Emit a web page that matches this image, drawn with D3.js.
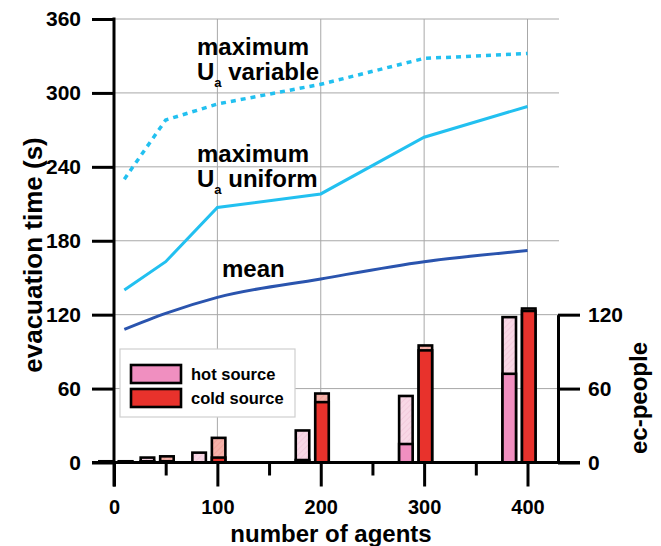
<!DOCTYPE html>
<html>
<head>
<meta charset="utf-8">
<script src="https://cdn.jsdelivr.net/npm/d3@7"></script>
<style>
  body { margin: 0; background: #fff; }
  svg { display: block; font-family: "Liberation Sans", Arial, sans-serif; font-weight: bold; }
</style>
</head>
<body>
<svg id="chart" width="661" height="546"></svg>
<script>
// evacuation time lines (s)
let agents = [10, 50, 100, 200, 300, 400];
let maxVariable = [230, 278, 291, 307, 328, 332];
let maxUniform = [140, 163, 207, 218, 264, 289];
let meanTime = [108, 121, 134, 149, 163, 172];

// ec-people bars: solid part + hatched part on top (total)
let barAgents = [10, 50, 100, 200, 300, 400];
let hotSolid = [0.5, 1, 0, 2, 15, 72];
let hotTotal = [1, 4, 8, 26, 54, 118];
let coldSolid = [0.5, 1, 4, 49, 91, 123];
let coldTotal = [1, 5, 20, 56, 95, 125];

let timeTicks = [0, 60, 120, 180, 240, 300, 360];
let agentTicks = [0, 100, 200, 300, 400];
let agentMinor = [50, 150, 250, 350];
let peopleTicks = [0, 60, 120];

let svg = d3.select("#chart");

let x = d3.scaleLinear().domain([0, 400]).range([114, 527.5]);
let y = d3.scaleLinear().domain([0, 360]).range([462.5, 19]);
let yPeople = d3.scaleLinear().domain([0, 120]).range([y(0), y(120)]);

let lightBlue = "#22c0f0";
let darkBlue = "#2a54ae";

// hatch patterns
let defs = svg.append("defs");
function hatch(id, bg, fg) {
    let p = defs.append("pattern")
        .attr("id", id)
        .attr("patternUnits", "userSpaceOnUse")
        .attr("width", 4).attr("height", 4)
        .attr("patternTransform", "rotate(45)");
    p.append("rect").attr("width", 4).attr("height", 4).attr("fill", bg);
    p.append("line").attr("x1", 0).attr("y1", 0).attr("x2", 0).attr("y2", 4)
        .attr("stroke", fg).attr("stroke-width", 1);
}
hatch("hotHatch", "#f8d8e6", "#efbcd2");
hatch("coldHatch", "#f5b2aa", "#ee948c");

// grid
let grid = svg.append("g").attr("stroke", "#a8a8a8").attr("stroke-width", 1);
grid.selectAll("line.h").data(timeTicks.slice(1)).enter().append("line")
    .attr("x1", x(0)).attr("x2", 559)
    .attr("y1", d => y(d)).attr("y2", d => y(d));
grid.selectAll("line.v").data(agentTicks.slice(1)).enter().append("line")
    .attr("x1", d => x(d)).attr("x2", d => x(d))
    .attr("y1", y(360)).attr("y2", y(0));

// bars
let bars = svg.append("g").attr("stroke", "#000").attr("stroke-width", 2.6);
function stack(vals, solid, off, w, solidFill, hatchFill) {
    bars.selectAll(null).data(barAgents).enter().append("rect")
        .attr("x", d => x(d) + off).attr("width", w)
        .attr("y", (d, i) => yPeople(vals[i]))
        .attr("height", (d, i) => yPeople(0) - yPeople(vals[i]))
        .attr("fill", hatchFill);
    bars.selectAll(null).data(barAgents).enter().append("rect")
        .attr("x", d => x(d) + off).attr("width", w)
        .attr("y", (d, i) => yPeople(solid[i]))
        .attr("height", (d, i) => yPeople(0) - yPeople(solid[i]))
        .attr("fill", solidFill);
}
stack(hotTotal, hotSolid, -25, 13.5, "#f08fc0", "url(#hotHatch)");
stack(coldTotal, coldSolid, -5.5, 13.5, "#e8322c", "url(#coldHatch)");

// lines
let line = d3.line().x((d, i) => x(agents[i])).y(d => y(d));
svg.append("path").datum(maxVariable).attr("d", line)
    .attr("fill", "none").attr("stroke", lightBlue).attr("stroke-width", 3.5)
    .attr("stroke-dasharray", "5,5");
svg.append("path").datum(maxUniform).attr("d", line)
    .attr("fill", "none").attr("stroke", lightBlue).attr("stroke-width", 3);
svg.append("path").datum(meanTime).attr("d", line.curve(d3.curveMonotoneX))
    .attr("fill", "none").attr("stroke", darkBlue).attr("stroke-width", 3);

// axes
function styleAxis(g, size) {
    g.selectAll(".tick line").attr("stroke", "#000").attr("stroke-width", 3);
    g.selectAll(".tick text").attr("fill", "#000")
        .style("font-size", size + "px").style("font-weight", "bold")
        .style("font-family", "'Liberation Sans', Arial, sans-serif");
}

let leftAxis = svg.append("g").attr("transform", "translate(" + x(0) + ",0)")
    .call(d3.axisLeft(y).tickValues(timeTicks).tickSize(22).tickPadding(11).tickSizeOuter(0));
leftAxis.select(".domain").remove();
styleAxis(leftAxis, 21);

let bottomAxis = svg.append("g").attr("transform", "translate(0," + y(0) + ")")
    .call(d3.axisBottom(x).tickValues(agentTicks).tickSize(24).tickPadding(13).tickSizeOuter(0));
bottomAxis.select(".domain").remove();
styleAxis(bottomAxis, 20);

let minorAxis = svg.append("g").attr("transform", "translate(0," + y(0) + ")")
    .call(d3.axisBottom(x).tickValues(agentMinor).tickSize(13).tickFormat(""));
minorAxis.select(".domain").remove();
styleAxis(minorAxis, 20);

let rightAxis = svg.append("g").attr("transform", "translate(558,0)")
    .call(d3.axisRight(yPeople).tickValues(peopleTicks).tickSize(22).tickPadding(8).tickSizeOuter(0));
rightAxis.select(".domain").attr("stroke", "#000").attr("stroke-width", 3);
styleAxis(rightAxis, 21);

// axis lines
svg.append("line").attr("x1", x(0)).attr("x2", x(0)).attr("y1", y(360) - 1.5).attr("y2", y(0) + 24)
    .attr("stroke", "#000").attr("stroke-width", 3);
svg.append("line").attr("x1", 92).attr("x2", 580).attr("y1", y(0)).attr("y2", y(0))
    .attr("stroke", "#000").attr("stroke-width", 3);

// axis titles
svg.append("text").attr("transform", "translate(42,255) rotate(-90)")
    .attr("text-anchor", "middle").style("font-size", "26px").text("evacuation time (s)");
svg.append("text").attr("x", 331).attr("y", 542)
    .attr("text-anchor", "middle").style("font-size", "24px").text("number of agents");
svg.append("text").attr("transform", "translate(647,398) rotate(-90)")
    .attr("text-anchor", "middle").style("font-size", "24px").text("ec-people");

// annotations
function label(xp, yp, lines) {
    svg.append("text").attr("x", xp).attr("y", yp).style("font-size", "24px").text(lines[0]);
    if (lines.length > 1) {
        let t = svg.append("text").attr("x", xp).attr("y", yp + 25).style("font-size", "24px");
        t.append("tspan").text("U");
        t.append("tspan").attr("dy", 7).style("font-size", "13px").text("a");
        t.append("tspan").attr("dy", -7).text(" " + lines[1]);
    }
}
label(197, 55, ["maximum", "variable"]);
label(197, 162, ["maximum", "uniform"]);
label(222, 277, ["mean"]);

// legend
let legend = svg.append("g");
legend.append("rect").attr("x", 120).attr("y", 349).attr("width", 175).attr("height", 68)
    .attr("fill", "#fff").attr("stroke", "#cfcfcf").attr("stroke-width", 1.2);
let legendItems = [["hot source", "#f08fc0"], ["cold source", "#e8322c"]];
legendItems.forEach(function (d, i) {
    legend.append("rect").attr("x", 131).attr("y", 365 + i * 24).attr("width", 50).attr("height", 18)
        .attr("fill", d[1]).attr("stroke", "#000").attr("stroke-width", 2.6);
    legend.append("text").attr("x", 191).attr("y", 380 + i * 24)
        .style("font-size", "16.5px").text(d[0]);
});
</script>
</body>
</html>
